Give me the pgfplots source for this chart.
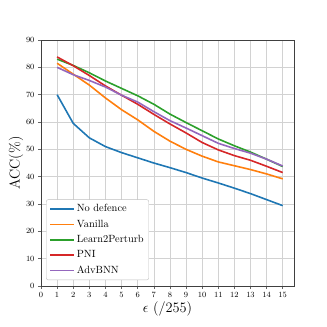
\documentclass[border=0pt]{standalone}
\usepackage{pgfplots}
\pgfplotsset{compat=1.18}
\definecolor{tabblue}{HTML}{1F77B4}
\definecolor{taborange}{HTML}{FF7F0E}
\definecolor{tabgreen}{HTML}{2CA02C}
\definecolor{tabred}{HTML}{D62728}
\definecolor{tabpurple}{HTML}{9467BD}
\begin{document}
\begin{tikzpicture}
\path[use as bounding box] (-41bp,-41bp) rectangle (286bp,286bp);
\begin{axis}[at={(0,0)}, anchor=south west, scale only axis,
  width=253bp, height=246bp,
  xmin=0, xmax=15.7, ymin=0, ymax=90,
  xtick={0,...,16}, ytick={0,10,...,90},
  grid=major, grid style={gray!35, line width=0.5pt},
  axis line style={black!75, line width=0.8pt},
  tick style={black!60, line width=0.5pt}, tick align=outside,
  major tick length=3bp,
  xtick pos=bottom, ytick pos=left,
  tick label style={font=\footnotesize},
  xlabel={$\epsilon$ (/255)}, ylabel={ACC(\%)},
  label style={font=\Large},
  xlabel style={yshift=3bp},
  ylabel style={yshift=-4bp},
  legend style={at={(0.02,0.024)}, anchor=south west,
    font=\fontsize{10.5}{12}\selectfont,
    draw=black!25, rounded corners=2pt, fill=white,
    row sep=2.6pt, inner sep=3pt},
  legend cell align=left,
  legend image code/.code={\draw[line width=1.6pt] (0bp,0bp) -- (24bp,0bp);},
  every axis legend/.append style={/tikz/every even column/.append style={column sep=3pt}},
]
\addplot[color=tabblue, line width=1.6pt] coordinates {
 (1,70.0) (2,59.5) (3,54.2) (4,51.0) (5,48.8) (6,46.9) (7,45.0) (8,43.3)
 (9,41.5) (10,39.5) (11,37.7) (12,35.8) (13,33.8) (14,31.6) (15,29.4)};
\addlegendentry{No defence}
\addplot[color=taborange, line width=1.6pt] coordinates {
 (1,81.5) (2,77.5) (3,73.5) (4,68.8) (5,64.5) (6,60.8) (7,56.6) (8,53.0)
 (9,50.0) (10,47.5) (11,45.4) (12,44.0) (13,42.6) (14,41.0) (15,39.2)};
\addlegendentry{Vanilla}
\addplot[color=tabgreen, line width=1.6pt] coordinates {
 (1,83.0) (2,80.7) (3,78.0) (4,75.0) (5,72.3) (6,69.6) (7,66.5) (8,62.9)
 (9,59.8) (10,56.8) (11,53.8) (12,51.3) (13,49.0) (14,46.4) (15,43.7)};
\addlegendentry{Learn2Perturb}
\addplot[color=tabred, line width=1.6pt] coordinates {
 (1,83.8) (2,80.6) (3,77.0) (4,73.2) (5,69.8) (6,66.5) (7,62.8) (8,59.3)
 (9,56.0) (10,52.5) (11,49.8) (12,47.7) (13,46.0) (14,43.8) (15,41.5)};
\addlegendentry{PNI}
\addplot[color=tabpurple, line width=1.6pt] coordinates {
 (1,80.0) (2,77.3) (3,75.2) (4,72.8) (5,69.8) (6,67.3) (7,63.8) (8,60.5)
 (9,57.8) (10,55.0) (11,52.2) (12,50.3) (13,48.6) (14,46.4) (15,43.9)};
\addlegendentry{AdvBNN}
\end{axis}
\end{tikzpicture}
\end{document}
